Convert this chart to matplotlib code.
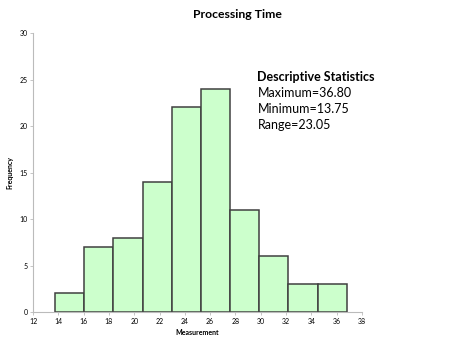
import numpy as np
import matplotlib
matplotlib.use("Agg")
import matplotlib.pyplot as plt

plt.rcParams['font.family'] = ['Lato', 'DejaVu Sans']

# histogram data
min_val = 13.75
max_val = 36.80
counts = [2, 7, 8, 14, 22, 24, 11, 6, 3, 3]
edges = np.linspace(min_val, max_val, len(counts) + 1)

fig = plt.figure(figsize=(4.74, 3.44), dpi=100)
ax = fig.add_axes([0.0696, 0.093, 0.694, 0.811])

ax.bar(edges[:-1], counts, width=np.diff(edges), align='edge',
       color='#ccffcc', edgecolor='#404040', linewidth=1.1)

ax.set_xlim(12, 38)
ax.set_ylim(0, 30)
ax.set_xticks(range(12, 39, 2))
ax.set_yticks(range(0, 31, 5))
ax.tick_params(labelsize=5, length=2, width=0.6, color='#bbbbbb', pad=2)
for s in ['top', 'right']:
    ax.spines[s].set_visible(False)
for s in ['left', 'bottom']:
    ax.spines[s].set_color('#bbbbbb')
    ax.spines[s].set_linewidth(0.8)

ax.set_xlabel('Measurement', fontsize=5, fontweight='bold', labelpad=3)
ax.set_ylabel('Frequency', fontsize=5, fontweight='bold', labelpad=4)
fig.text(0.5, 0.958, 'Processing Time', ha='center', va='center',
         fontsize=8.8, fontweight='bold')

fig.text(0.543, 0.775, 'Descriptive Statistics', fontsize=9,
         fontweight='bold', va='center')
stats = ['Maximum=%.2f' % max_val, 'Minimum=%.2f' % min_val,
         'Range=%.2f' % (max_val - min_val)]
for i, line in enumerate(stats):
    fig.text(0.543, 0.729 - i * 0.0465, line, fontsize=9, va='center')

fig.savefig('out.png', dpi=100)
